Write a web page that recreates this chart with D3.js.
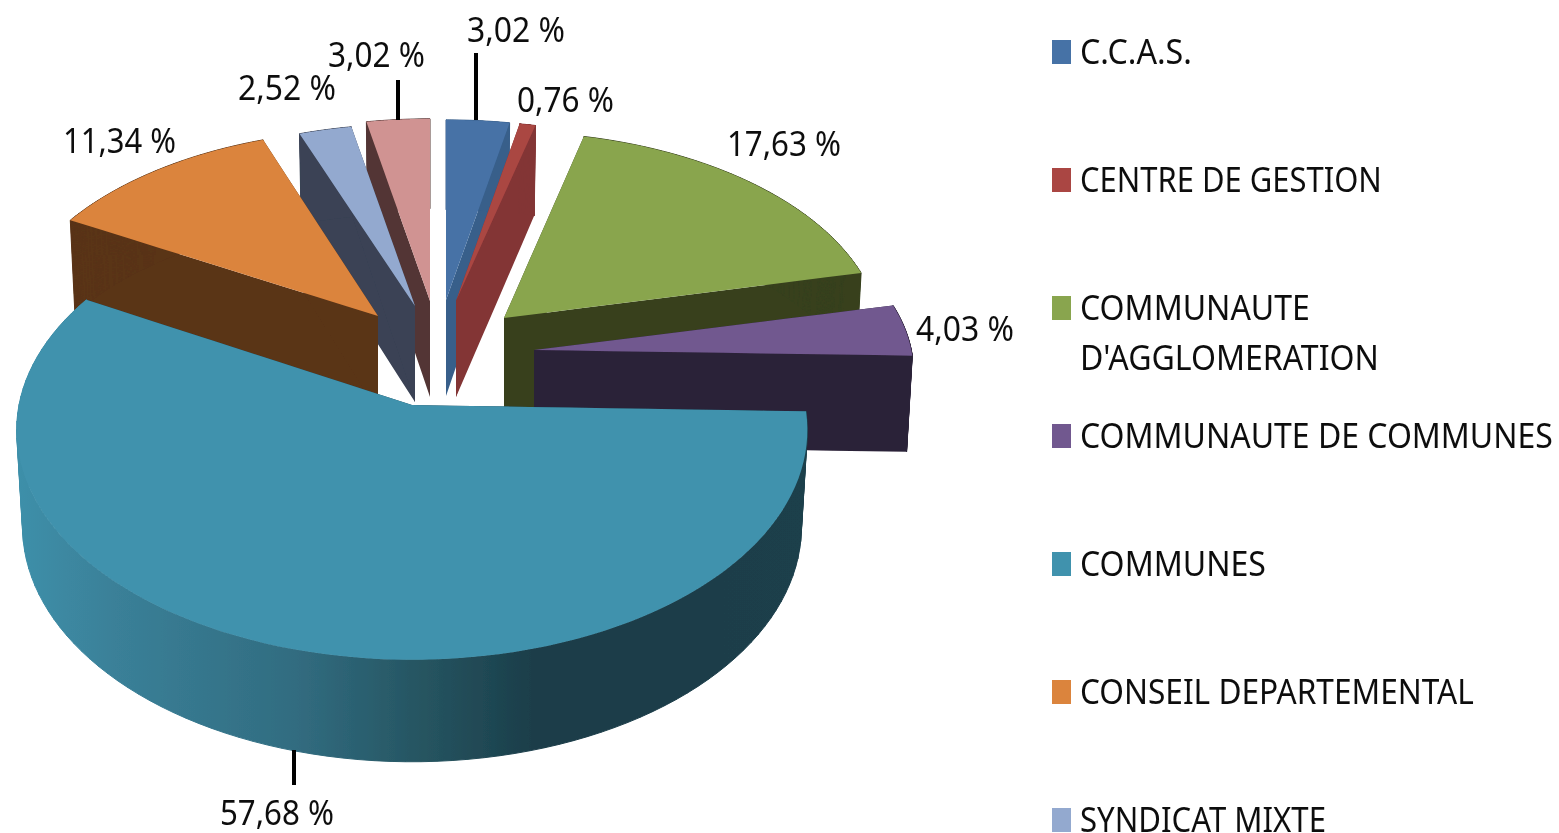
<!DOCTYPE html>
<html><head><meta charset="utf-8">
<script src="https://cdn.jsdelivr.net/npm/d3@7/dist/d3.min.js"></script>
<style>html,body{margin:0;padding:0;background:#fff;overflow:hidden}svg{display:block}text{font-family:"Noto Sans",sans-serif;fill:#111}</style>
</head><body><svg id="c" width="1559" height="833"></svg>
<script>
const categories=["C.C.A.S.","CENTRE DE GESTION","COMMUNAUTE D'AGGLOMERATION","COMMUNAUTE DE COMMUNES","COMMUNES","CONSEIL DEPARTEMENTAL","SYNDICAT MIXTE","SYNDICAT INTERCOMMUNAL"];
const values=[3.02,0.76,17.63,4.03,57.68,11.34,2.52,3.02];
const topColors=["#4672A6","#AA4643","#89A54E","#71588F","#4092AD","#DB843D","#93A9CF","#D09392"];
const wallColors=["#375E8A","#833535","#37401E","#2B2238","#1C3F4B","#5A3418","#3A4254","#533635"];
// layout: screen position of each exploded slice's tip, its foreshortening, and value labels
const tips=[[446,300],[456,301],[504,318],[534,350],[412,405],[378,316],[415,306],[430,301]];
const sliceScale=[[.95,.88],[.95,.88],[.955,.91],[.96,.9],[1,1],[.945,.91],[.95,.89],[.95,.89]];
const labelAt=[[467,42,98],[517,112,97],[727,156,114],[916,341,98],[220,825,114],[63,153,113],[238,100,98],[328,67,97]];
const leaders=[[0,476,53,120],[7,398,80,120],[4,294,750,785]];
const drawOrder=[7,6,0,1,5,2,3,4];

const svg=d3.select("#c");
const defs=svg.append("defs");
const grad=defs.append("linearGradient").attr("id","rim").attr("gradientUnits","userSpaceOnUse")
  .attr("x1",20).attr("x2",810).attr("y1",0).attr("y2",0);
[[0,"#3E8FA9"],[0.12,"#3A8098"],[0.35,"#316C80"],[0.52,"#25535F"],[0.66,"#1A3C48"],[1,"#1C3F4B"]]
  .forEach(s=>grad.append("stop").attr("offset",s[0]).attr("stop-color",s[1]));
defs.append("filter").attr("id","soft").append("feGaussianBlur").attr("stdDeviation",0.45);

const Rx=393,Ry=227,p=0.109;
function proj(a,r,i,low){
  const tip=tips[i],sc=sliceScale[i];
  const X=r*Math.sin(a),Y=r*Math.cos(a);
  const kx=low?0.985:1, d=low?(96-6*Y):0;
  return [tip[0]+kx*sc[0]*Rx*X/(1+p*Y), tip[1]-sc[1]*Ry*Y/(1+p*Y)+d];
}
const pie=d3.pie().sort(null)(values);
const line=d3.line();
const pie3d=svg.append("g").attr("filter","url(#soft)");
const radii=d3.range(0,11).map(t=>t/10);
drawOrder.forEach(i=>{
  const s=pie[i];
  const arc=d3.range(0,101).map(t=>s.startAngle+(s.endAngle-s.startAngle)*t/100);
  const g=pie3d.append("g");
  const wall=wallColors[i];
  [s.startAngle,s.endAngle].forEach(a=>{
    const top=radii.map(r=>proj(a,r,i,false));
    const low=radii.map(r=>proj(a,r,i,true)).reverse();
    g.append("path").attr("d",line(top.concat(low))+"Z").attr("fill",wall);
  });
  const rimTop=arc.map(a=>proj(a,1,i,false));
  const rimFill=i===4?"url(#rim)":wall;
  // one path of same-wound quads, so neighbours leave no seams or holes
  const quads=d3.pairs(arc).map(d=>{
    const q=[proj(d[0],1,i,false),proj(d[1],1,i,false),proj(d[1],1,i,true),proj(d[0],1,i,true)];
    if(d3.polygonArea(q)<0) q.reverse();
    return line(q)+"Z";
  }).join("");
  g.append("path").attr("d",quads).attr("fill",rimFill).attr("fill-rule","nonzero").attr("stroke",rimFill).attr("stroke-width",1);
  const out=radii.map(r=>proj(s.startAngle,r,i,false));
  const back=radii.slice().reverse().map(r=>proj(s.endAngle,r,i,false));
  g.append("path").attr("d",line([...out,...rimTop,...back])+"Z").attr("fill",topColors[i]);
});
// leader lines
svg.selectAll("line.l").data(leaders).join("line").attr("class","l")
  .attr("x1",d=>d[1]).attr("x2",d=>d[1]).attr("y1",d=>d[2]).attr("y2",d=>d[3])
  .attr("stroke","#000").attr("stroke-width",4);

const txt=svg.append("g").attr("filter","url(#soft)");
function put(x,y,t,width){
  const e=txt.append("text").attr("font-size",35).text(t);
  const k=width/e.node().getComputedTextLength();
  e.attr("transform",`translate(${x},${y}) scale(${k},1)`);
}
const fmt=v=>v.toFixed(2).replace(".",",")+" %";
values.forEach((v,i)=>put(labelAt[i][0],labelAt[i][1],fmt(v),labelAt[i][2]));

// legend
const legendY=d3.scaleLinear().domain([0,1]).range([64,192]);
const legendRows=[[["C.C.A.S.",112]],[["CENTRE DE GESTION",302]],[["COMMUNAUTE",230],["D'AGGLOMERATION",299]],[["COMMUNAUTE DE COMMUNES",473]],[["COMMUNES",186]],[["CONSEIL DEPARTEMENTAL",394]],[["SYNDICAT MIXTE",246]]];
legendRows.forEach((lines,i)=>{
  const y=legendY(i);
  svg.append("rect").attr("x",1052).attr("y",y-24).attr("width",19).attr("height",24).attr("fill",topColors[i]);
  lines.forEach((t,j)=>put(1080,y+j*50,t[0],t[1]));
});
</script></body></html>
